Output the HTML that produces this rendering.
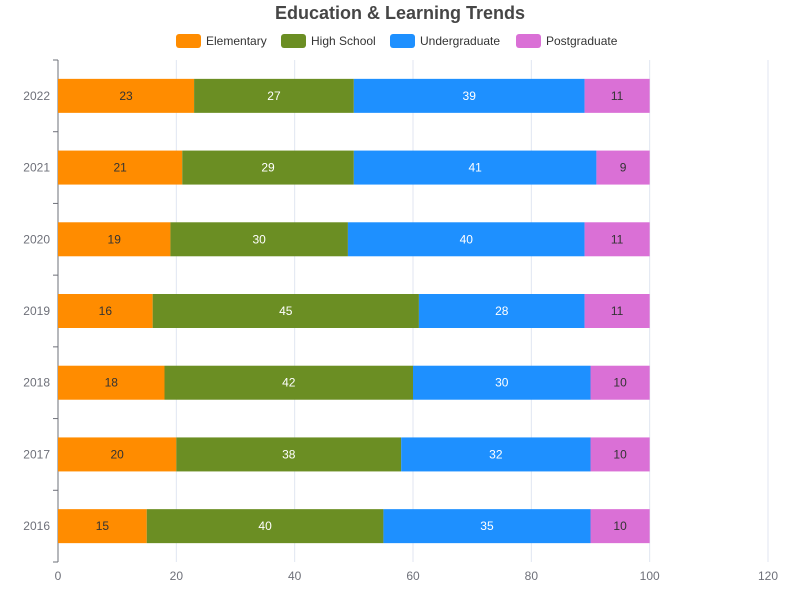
<!DOCTYPE html>
<html><head><meta charset="utf-8"><style>
body{margin:0;background:#fff;font-family:"Liberation Sans",sans-serif}
</style></head><body>
<svg id="c" width="800" height="600" xmlns="http://www.w3.org/2000/svg"></svg>
<script>
const categories=["2016","2017","2018","2019","2020","2021","2022"];
const seriesNames=["Elementary","High School","Undergraduate","Postgraduate"];
const elementary=[15,20,18,16,19,21,23];
const highSchool=[40,38,42,45,30,29,27];
const undergraduate=[35,32,30,28,40,41,39];
const postgraduate=[10,10,10,11,11,9,11];
const xTicks=[0,20,40,60,80,100,120];
const colors=["#FF8C00","#6B8E23","#1E90FF","#DA70D6"];
const textColors=["#333","#fff","#fff","#333"];
const series=[elementary,highSchool,undergraduate,postgraduate];
const ns="http://www.w3.org/2000/svg";
const svg=document.getElementById('c');
const X0=58,X1=768,Y0=60,Y1=562;
const x=v=>X0+(v-0)/(120-0)*(X1-X0);
const band=(Y1-Y0)/categories.length;
const yc=i=>Y1-band*(i+0.5);
const barH=34;
function mk(t,a,parent){const e=document.createElementNS(ns,t);for(const k in a)e.setAttribute(k,a[k]);(parent||svg).appendChild(e);return e;}
const title=mk('text',{x:400,y:19,'text-anchor':'middle','font-size':18,'font-weight':'bold',fill:'#464646'});
title.textContent="Education & Learning Trends";


const lx=[176,281,390,516];
seriesNames.forEach((n,i)=>{
 const g=mk('g',{});
 
 
 mk('rect',{x:lx[i],y:34,width:25,height:14,rx:3,fill:colors[i]},g);
 const t=mk('text',{x:lx[i]+30,y:45,'font-size':12,fill:'#333'},g);t.textContent=n;
});
xTicks.forEach(v=>{
 const l=mk('line',{x1:x(v),x2:x(v),y1:Y0,y2:Y1,stroke:'#e0e6f1'});
 
 
 const t=mk('text',{x:x(v),y:580,'text-anchor':'middle','font-size':12,fill:'#6e7079'});
 t.textContent=v;
 
 
});
const ax=mk('line',{x1:X0,x2:X0,y1:Y0,y2:Y1,stroke:'#6e7079'});


for(let i=0;i<=categories.length;i++){mk('line',{x1:X0-5,x2:X0,y1:Y1-band*i,y2:Y1-band*i,stroke:'#6e7079'});}
categories.forEach((c,i)=>{
 const t=mk('text',{x:X0-8,y:yc(i)+4,'text-anchor':'end','font-size':12,fill:'#6e7079'});
 t.textContent=c;
 
 
 let acc=0;
 series.forEach((s,k)=>{
  const v=s[i];
  const r=mk('rect',{x:x(acc),y:yc(i)-barH/2,width:x(acc+v)-x(acc),height:barH,fill:colors[k]});
  
  
  const tt=mk('text',{x:(x(acc)+x(acc+v))/2,y:yc(i)+4,'text-anchor':'middle','font-size':12,fill:textColors[k]});
  tt.textContent=v;
  acc+=v;
 });
});
</script>
</body></html>
